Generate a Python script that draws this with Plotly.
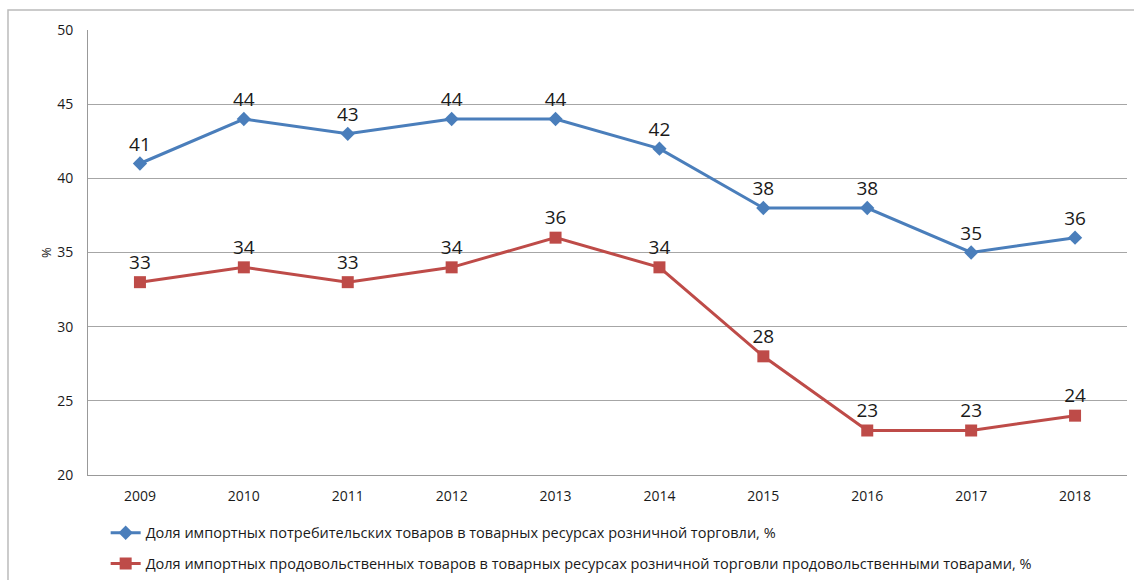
import plotly.graph_objects as go

years = ["2009", "2010", "2011", "2012", "2013", "2014", "2015", "2016", "2017", "2018"]
consumer_share = [41, 44, 43, 44, 44, 42, 38, 38, 35, 36]
food_share = [33, 34, 33, 34, 36, 34, 28, 23, 23, 24]
name_consumer = "Доля импортных потребительских товаров в товарных ресурсах розничной торговли, %"
name_food = "Доля импортных продовольственных товаров в товарных ресурсах розничной торговли продовольственными товарами, %"
y_ticks = [20, 25, 30, 35, 40, 45, 50]

blue = "#4a7ebb"
red = "#be4b48"
label_font = dict(family="Open Sans, Noto Sans, sans-serif", size=19, color="#1a1a1a")
tick_font = dict(family="Open Sans, Noto Sans, sans-serif", size=14, color="#1a1a1a")

fig = go.Figure()
fig.add_trace(go.Scatter(
    x=years, y=consumer_share, name=name_consumer, mode="lines+markers+text",
    line=dict(color=blue, width=3), marker=dict(symbol="diamond", size=11, color=blue),
    text=[str(v) for v in consumer_share], textposition="top center", textfont=label_font,
    legendgroup="a",
))
fig.add_trace(go.Scatter(
    x=years, y=food_share, name=name_food, mode="lines+markers+text",
    line=dict(color=red, width=3), marker=dict(symbol="square", size=12, color=red),
    text=[str(v) for v in food_share], textposition="top center", textfont=label_font,
    legendgroup="b",
))

fig.update_layout(
    width=1134, height=580,
    margin=dict(l=88, r=7, t=30, b=105, autoexpand=False),
    paper_bgcolor="white", plot_bgcolor="white",
    font=dict(family="Open Sans, Noto Sans, sans-serif", size=13, color="#1a1a1a"),
    showlegend=True,
    legend=dict(orientation="v", x=0.017, xanchor="left", y=-0.094, yanchor="top",
                font=dict(family="Open Sans, Noto Sans, sans-serif", size=14.5, color="#1a1a1a"),
                tracegroupgap=9, itemwidth=30),
    xaxis=dict(type="category", showgrid=False, showline=True, linecolor="#999",
               linewidth=1, ticks="", tickfont=tick_font, automargin=False,
               range=[-0.5, 9.5], fixedrange=True, ticklabelstandoff=8),
    yaxis=dict(range=[20, 50], tickvals=y_ticks, showgrid=True, gridcolor="#a6a6a6",
               gridwidth=1, showline=True, linecolor="#999", linewidth=1, zeroline=False,
               tickfont=tick_font, ticks="", ticklabelstandoff=11, automargin=False,
               title=dict(text="%", font=dict(size=13, color="#1a1a1a"), standoff=2)),
    shapes=[dict(type="rect", xref="paper", yref="paper", x0=-0.077, x1=1.02, y0=-0.3, y1=1.045,
                 line=dict(color="#bbbbbb", width=1.5), layer="below")],
)

fig.write_html("out.html", config={"displayModeBar": False},
               post_script="document.body.style.margin='0';document.body.style.overflow='hidden';")
